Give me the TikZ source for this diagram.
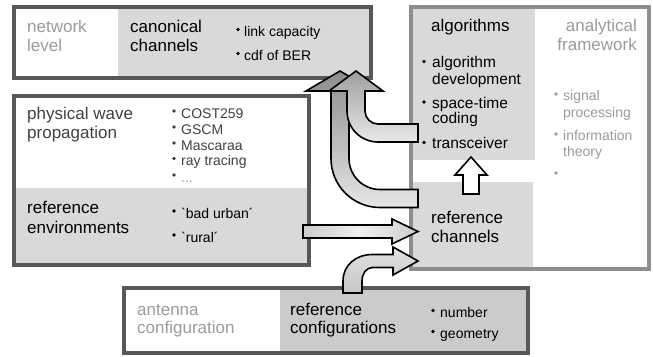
\documentclass[tikz,border=0pt]{standalone}
\usepackage{fontspec}
\setmainfont{Liberation Sans}[Ligatures=TeXOff]
\definecolor{framedark}{HTML}{585858}
\definecolor{framelight}{HTML}{8E8E8E}
\definecolor{fillgray}{HTML}{D9D9D9}
\definecolor{fillgrayb}{HTML}{CBCBCB}
\definecolor{txtgray}{HTML}{9B9B9B}
\tikzset{
  lbl/.style={anchor=base west, inner sep=0pt, font=\fontsize{17}{20}\selectfont},
  lble/.style={anchor=base east, inner sep=0pt, font=\fontsize{17}{20}\selectfont},
  sub/.style={anchor=base west, inner sep=0pt, font=\fontsize{14}{16}\selectfont},
  subl/.style={anchor=base west, inner sep=0pt, font=\fontsize{15.5}{18}\selectfont},
  faint/.style={text=txtgray},
  darkframe/.style={draw=framedark, line width=4pt},
  lightframe/.style={draw=framelight, line width=4pt},
  fatarrow/.style={draw=black, line width=1.6pt, line join=miter},
}
\begin{document}
\begin{tikzpicture}[x=1pt,y=-1pt]
\useasboundingbox[fill=white] (0,0) rectangle (653,356);

% ---- box fills
\fill[white] (14,7) rectangle (118,78);
\fill[fillgray] (118,7) rectangle (371,78);
\fill[white] (14,96) rectangle (309,188);
\fill[fillgray] (14,188) rectangle (309,265);
\fill[white] (411,7) rectangle (649,269);
\fill[fillgray] (413,9) rectangle (535,160);
\fill[fillgray] (413,182) rectangle (533,267);
\fill[white] (124,288) rectangle (280,353);
\fill[fillgrayb] (280,288) rectangle (528,353);

% ---- box frames
\draw[darkframe] (14,7) rectangle (371,78);
\draw[darkframe] (14,96) rectangle (309,265);
\draw[lightframe] (411,7) rectangle (649,269);
\draw[darkframe] (124,288) rectangle (528,353);

% ---- arrows
% from reference channels to canonical channels
\shadedraw[fatarrow, top color=black!45, bottom color=black!10]
  (418,189.5) -- (380,189.5) .. controls (362.9,189.5) and (349,175.6) .. (349,158.5)
  -- (349,91) -- (374,91) -- (340,71) -- (306,91) -- (331,91) -- (331,158.5)
  .. controls (331,185.6) and (352.9,207.5) .. (380,207.5) -- (418,207.5) -- cycle;
% from algorithms to canonical channels
\shadedraw[fatarrow, top color=black!38, bottom color=black!9]
  (418,124) -- (378,124) .. controls (370.8,124) and (365,118.2) .. (365,111)
  -- (365,91) -- (383,91) -- (356,71) -- (329,91) -- (347,91) -- (347,111)
  .. controls (347,128.1) and (360.9,142) .. (378,142) -- (418,142) -- cycle;
% from reference environments to reference channels
\shadedraw[fatarrow, left color=black!20, right color=black!20, middle color=black!6]
  (303,225) -- (392,225) -- (392,219) -- (418,231.5) -- (392,244) -- (392,238)
  -- (303,238) -- cycle;
% from reference configurations to reference channels
\shadedraw[fatarrow, top color=black!12, bottom color=black!22]
  (343,293) -- (343,281) .. controls (343,265) and (356,254.5) .. (372.5,254.5)
  -- (393,254.5) -- (393,247) -- (418,261) -- (393,275) -- (393,267.5)
  -- (372.5,267.5) .. controls (366.5,267.5) and (362,273.5) .. (362,281)
  -- (362,293) -- cycle;
% from reference channels to algorithms
\filldraw[fatarrow, fill=white]
  (463,194) -- (463,175) -- (455,175) -- (471,157) -- (487,175) -- (479,175)
  -- (479,194) -- cycle;

% ---- texts: top box
\node[lbl, faint] (net1) at (27,32) {network};
\node[lbl, faint] (net2) at (27,51) {level};
\node[lbl] (can1) at (130,32) {canonical};
\node[lbl] (can2) at (130,51) {channels};
\node[sub] (lc) at (244,36) {link capacity};
\node[sub] (cdf) at (244,60) {cdf of BER};
\fill (238,29.5) circle (1.8);
\fill (238,53.5) circle (1.8);

% ---- physical wave propagation box
\node[lbl, faint, text=black!75] (phy1) at (27,119) {physical wave};
\node[lbl, text=black!75] (phy2) at (27,138) {propagation};
\node[sub, text=black!75] (b1) at (181,118) {COST259};
\node[sub, text=black!75] (b2) at (181,134) {GSCM};
\node[sub, text=black!75] (b3) at (181,150) {Mascaraa};
\node[sub, text=black!75] (b4) at (181,165.5) {ray tracing};
\node[sub, text=txtgray] (b5) at (181,182) {...};
\foreach \yy in {118,134,150,165.5,182} \fill[black!75] (174,\yy-7) circle (1.8);
\node[lbl] (env1) at (27,213) {reference};
\node[lbl] (env2) at (27,233) {environments};
\node[sub] (bu) at (181,218) {`bad urban´};
\node[sub] (ru) at (181,242) {`rural´};
\fill (174,211) circle (1.8);
\fill (174,235) circle (1.8);

% ---- right box
\node[lbl] (alg) at (431,31) {algorithms};
\node[lble, faint] (ana1) at (637,31) {analytical};
\node[lble, faint] (ana2) at (637,50) {framework};
\node[subl] (ad1) at (432,67) {algorithm};
\node[subl] (ad2) at (432,84) {development};
\node[subl] (st1) at (432,108) {space-time};
\node[subl] (st2) at (432,123.5) {coding};
\node[subl] (tr) at (432,148) {transceiver};
\fill (424,61.5) circle (1.9);
\fill (424,102) circle (1.9);
\fill (424,142.5) circle (1.9);
\node[sub, faint] (sp1) at (563,100) {signal};
\node[sub, faint] (sp2) at (563,117) {processing};
\node[sub, faint] (it1) at (563,140) {information};
\node[sub, faint] (it2) at (563,156) {theory};
\fill[txtgray] (556,94) circle (1.8);
\fill[txtgray] (556,134) circle (1.8);
\fill[txtgray] (556,173) circle (1.8);
\node[lbl] (rc1) at (431,223) {reference};
\node[lbl] (rc2) at (431,242) {channels};

% ---- antenna box
\node[lbl, faint] (ant1) at (137,315) {antenna};
\node[lbl, faint] (ant2) at (137,333) {configuration};
\node[lbl] (rcf1) at (290,315) {reference};
\node[lbl] (rcf2) at (290,333) {configurations};
\node[sub] (num) at (440,317) {number};
\node[sub] (geo) at (440,338) {geometry};
\fill (433,310.5) circle (1.8);
\fill (433,331.5) circle (1.8);
\end{tikzpicture}
\end{document}
